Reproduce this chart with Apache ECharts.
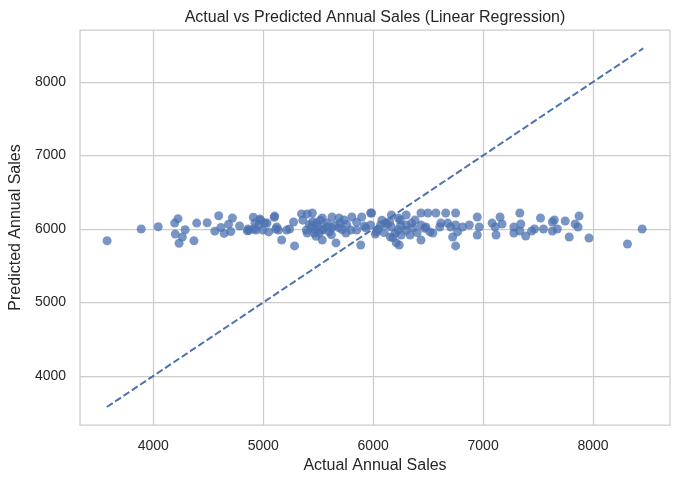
<!DOCTYPE html>
<html>
<head>
<meta charset="utf-8">
<script src="https://cdn.jsdelivr.net/npm/echarts@6/dist/echarts.min.js"></script>
<style>
  html, body { margin: 0; padding: 0; background: #fff; }
  #chart { width: 684px; height: 484px; }
</style>
</head>
<body>
<div id="chart"></div>
<script>
// actual sales (x) and predicted sales (y)
const actual = [
  3580, 3890, 4045, 4225, 4195, 4200, 4290, 4265, 4235, 4370,
  4395, 4490, 4595, 4720, 4560, 4615, 4645, 4685, 4705, 4785,
  4855, 4870, 4910, 4975, 4915, 4960, 5035, 5050, 5100, 5115,
  4925, 4970, 4862, 4935, 4997, 5015, 5105, 5123, 5140, 5213,
  5240, 5276, 5168, 5285, 5348, 5400, 5447, 5392, 5400, 5437,
  5483, 5465, 5537, 5510, 5537, 5626, 5690, 5735, 5806, 5896,
  5977, 5626, 5690, 5752, 5797, 5851, 5932, 5977, 5662, 5887,
  5582, 6067, 6112, 6166, 6166, 6202, 6157, 6210, 5537, 6030,
  6246, 6228, 6300, 6300, 6255, 6336, 6363, 6381, 6435, 6498,
  6570, 6660, 6750, 6435, 6480, 6516, 6543, 6606, 6615, 6678,
  6705, 6750, 6768, 6813, 6875, 6435, 6723, 6750, 6237, 6947,
  6965, 6947, 7082, 7109, 7154, 7172, 7118, 7334, 7280, 7343,
  7334, 7280, 7388, 7441, 7468, 7522, 7549, 7630, 7648, 7630,
  7675, 7747, 7783, 7837, 7864, 7873, 7963, 8313, 8447, 5986,
  5450, 5500, 5550, 5600, 5650, 5700, 5480, 5520, 5580, 5620,
  5720, 5760, 6050, 6100, 6150, 6250, 6300, 6350, 6400, 6180,
  6230, 5360, 5420, 5470, 5850, 5920, 6020, 6080, 6130, 6470
];
const predicted = [
  5840, 6000, 6030, 6140, 6080, 5930, 5990, 5890, 5805, 5840,
  6080, 6085, 6180, 6150, 5970, 6020, 5940, 6065, 5965, 6040,
  5975, 5980, 6160, 6120, 6000, 6060, 6080, 5960, 6160, 6000,
  6080, 6135, 6000, 5985, 5985, 6080, 6175, 6027, 5985, 5985,
  6000, 6095, 5850, 5770, 6205, 6205, 6218, 5985, 5945, 6027,
  6080, 5945, 6150, 5945, 5850, 6163, 6150, 6122, 6163, 6163,
  6218, 6014, 6014, 5945, 5985, 5985, 6014, 6054, 5810, 5782,
  6080, 6054, 6080, 6190, 6027, 5945, 5891, 5810, 5985, 5960,
  6122, 5985, 6190, 6054, 5918, 5918, 6014, 6122, 6218, 6218,
  6218, 6218, 6218, 6054, 6027, 5960, 5945, 6027, 6080, 6080,
  6027, 6054, 5960, 6027, 6054, 5850, 5891, 5770, 5782, 6163,
  6027, 5918, 6080, 6027, 6163, 6068, 5918, 6218, 6027, 6068,
  5973, 5945, 5905, 5973, 6000, 6150, 6000, 6095, 6122, 5973,
  6000, 6109, 5891, 6068, 6027, 6177, 5877, 5796, 6000, 6218,
  6100, 6050, 6000, 5960, 6050, 6080, 5900, 6120, 6030, 5920,
  5990, 6060, 6000, 5950, 6100, 6050, 5980, 6080, 5950, 5880,
  6150, 6120, 6060, 5990, 6090, 6040, 5930, 6120, 6060, 6010
];
const lineEnds = [3578, 8456];
const xTicks = [4000, 5000, 6000, 7000, 8000];
const yTicks = [4000, 5000, 6000, 7000, 8000];

const points = actual.map((v, i) => [v, predicted[i]]);
const diag = lineEnds.map(v => [v, v]);

const chart = echarts.init(document.getElementById('chart'));
const txt = '#262626';
const gridCol = '#cccccc';
const font = 'Liberation Sans, Arial, sans-serif';

chart.setOption({
  animation: false,
  textStyle: { fontFamily: font },
  title: {
    text: 'Actual vs Predicted Annual Sales (Linear Regression)',
    left: 370, top: 5, textAlign: 'center',
    textStyle: { fontSize: 16, fontWeight: 'normal', color: txt, fontFamily: font }
  },
  grid: { left: 78, right: 14, top: 30, bottom: 59, show: true, borderColor: gridCol, borderWidth: 1.25 },
  xAxis: {
    type: 'value', min: 3334, max: 8700,
    name: 'Actual Annual Sales', nameLocation: 'middle', nameGap: 31,
    nameTextStyle: { fontSize: 16, color: txt, fontFamily: font },
    axisLine: { show: false },
    axisTick: { show: false, customValues: xTicks },
    axisLabel: {
      fontSize: 14, color: txt, margin: 14, fontFamily: font,
      customValues: xTicks, formatter: v => String(v)
    },
    splitLine: { show: true, lineStyle: { color: gridCol, width: 1.25 } }
  },
  yAxis: {
    type: 'value', min: 3333, max: 8707,
    name: 'Predicted Annual Sales', nameLocation: 'middle', nameGap: 52,
    nameTextStyle: { fontSize: 16, color: txt, fontFamily: font },
    axisLine: { show: false },
    axisTick: { show: false, customValues: yTicks },
    axisLabel: {
      fontSize: 14, color: txt, margin: 14, fontFamily: font,
      customValues: yTicks, formatter: v => String(v)
    },
    splitLine: { show: true, lineStyle: { color: gridCol, width: 1.25 } }
  },
  series: [
    {
      type: 'scatter', data: points, symbolSize: 9,
      itemStyle: { color: '#4c72b0', opacity: 0.75 }, z: 3
    },
    {
      type: 'line', data: diag, symbol: 'none',
      lineStyle: { color: '#4c72b0', width: 2, type: [7, 3] }, z: 4
    }
  ]
});
</script>
</body>
</html>
